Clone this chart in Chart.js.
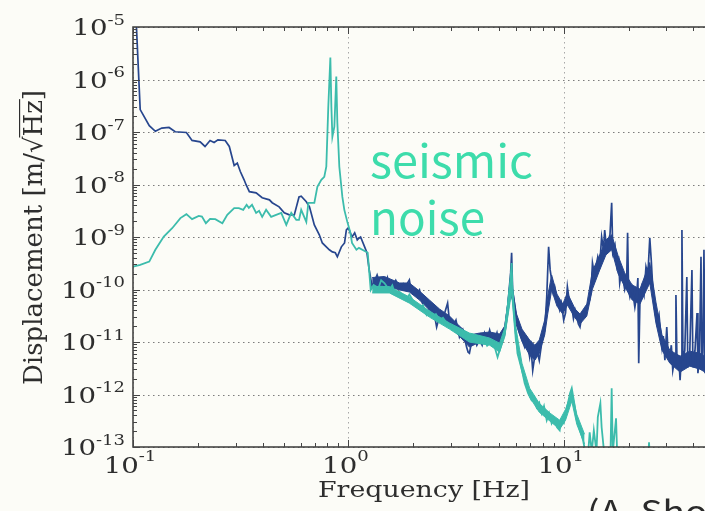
<!DOCTYPE html>
<html>
<head>
<meta charset="utf-8">
<title>Displacement spectrum</title>
<script src="https://cdn.jsdelivr.net/npm/chart.js@4.4.1/dist/chart.umd.min.js"></script>
<style>
    html, body { margin: 0; padding: 0; background: #fcfcf7; }
    #chart { display: block; }
</style>
</head>
<body>
<canvas id="chart" width="705" height="511"></canvas>
<script>
// axis decades (powers of ten) that carry a label and a dotted grid line
const xTickPowers = [-1, 0, 1];
const yTickPowers = [-5, -6, -7, -8, -9, -10, -11, -12, -13];

// dark blue trace
const blueFreq = [
    0.1025, 0.108, 0.119, 0.127, 0.136, 0.147, 0.157, 0.177, 0.188, 0.205,
    0.216, 0.228, 0.238, 0.248, 0.268, 0.280, 0.295, 0.305, 0.315, 0.328,
    0.335, 0.347, 0.373, 0.398, 0.430, 0.443, 0.477, 0.504, 0.532, 0.561,
    0.590, 0.604, 0.638, 0.660, 0.695, 0.733, 0.757, 0.790, 0.816, 0.843,
    0.870, 0.889, 0.928, 0.960, 0.979, 1.00, 1.04, 1.07, 1.10, 1.12,
    1.14, 1.19, 1.22, 1.25, 1.29, 1.36, 1.40, 1.44, 1.48, 1.52,
    1.56, 1.60, 1.66, 1.73, 1.80, 1.86, 1.92, 1.96, 2.07, 2.14,
    2.21, 2.30, 2.38, 2.47, 2.57, 2.66, 2.74, 2.89, 2.95, 3.05,
    3.16, 3.28, 3.40, 3.54, 3.60, 3.65, 3.75, 3.85, 3.95, 4.07,
    4.18, 4.29, 4.41, 4.53, 4.66, 4.78, 4.90, 5.04, 5.18, 5.32,
    5.49, 5.67, 5.73, 5.79, 6.04, 6.15, 6.24, 6.40, 6.59, 6.75,
    6.95, 7.05, 7.18, 7.35, 7.57, 7.70, 7.90, 8.05, 8.16, 8.34,
    8.51, 8.65, 8.79, 8.93, 9.08, 9.30, 9.58, 9.75, 10.0, 10.2,
    10.4, 10.6, 10.9, 11.1, 11.3, 11.5, 11.7, 11.9, 12.2, 12.5,
    12.8, 13.2, 13.4, 13.6, 13.9, 14.4, 14.7, 15.0, 15.3, 15.5,
    15.8, 16.0, 16.4, 16.7, 16.9, 17.3, 17.7, 18.0, 18.2, 18.5,
    18.8, 19.2, 19.6, 19.8, 20.0, 20.3, 20.8, 21.4, 21.8, 22.1,
    22.3, 22.6, 23.1, 23.6, 24.1, 24.6, 25.1, 25.5, 25.9, 26.5,
    27.1, 27.7, 28.6, 29.0, 29.5, 30.1, 30.5, 31.1, 31.6, 32.1,
    33.0, 33.2, 33.6, 34.2, 34.7, 35.1, 35.4, 35.8, 36.5, 37.3,
    37.7, 38.5, 39.4, 39.8, 40.7, 41.6, 42.0, 42.7, 43.4, 43.8,
    44.3, 44.8, 45.3, 46.0
];
const blueDisp = [
    3e-5, 2.67e-7, 1.32e-7, 1.03e-7, 1.19e-7, 1.22e-7, 1.01e-7, 9.8e-8, 6.9e-8, 6.5e-8,
    5.3e-8, 6.9e-8, 6.3e-8, 7.1e-8, 6.9e-8, 5.3e-8, 2.3e-8, 2.56e-8, 1.77e-8, 1.23e-8,
    9.9e-9, 7.3e-9, 6.95e-9, 5.6e-9, 5.1e-9, 4.5e-9, 3.75e-9, 2.9e-9, 2.64e-9, 2.64e-9,
    5.8e-9, 6.0e-9, 4.7e-9, 3.75e-9, 1.7e-9, 1.1e-9, 7.7e-10, 6.5e-10, 5.7e-10, 5.2e-10,
    5.0e-10, 4.2e-10, 6.5e-10, 7.7e-10, 1.36e-9, 1.49e-9, 1.0e-9, 1.2e-9, 8.8e-10, 9.5e-10,
    1.0e-9, 6.5e-10, 5.0e-10, 2.36e-10, 1.12e-10, 1.89e-10, 1.3e-10, 1.52e-10, 1.0e-10, 1.66e-10,
    1.07e-10, 1.12e-10, 1.5e-10, 1.07e-10, 1.3e-10, 1.22e-10, 1.52e-10, 8.95e-11, 7.85e-11, 9.8e-11,
    5.5e-11, 6.3e-11, 4.06e-11, 4.8e-11, 1.92e-11, 3.3e-11, 2.62e-11, 5.5e-11, 2.4e-11, 1.92e-11,
    2.6e-11, 1.24e-11, 1.7e-11, 8.0e-12, 6.4e-12, 6.1e-12, 1.09e-11, 1.24e-11, 8.7e-12, 1.09e-11,
    8.7e-12, 1.48e-11, 1.09e-11, 1.69e-11, 1.09e-11, 1.09e-11, 1.5e-11, 8.7e-12, 1.3e-11, 1.69e-11,
    4.6e-11, 2.07e-10, 5.0e-10, 9.8e-11, 2.62e-11, 2.1e-11, 1.48e-11, 1.09e-11, 8.0e-12, 1.09e-11,
    5.15e-12, 7.8e-12, 2.9e-12, 5.6e-12, 6.1e-12, 4.5e-12, 9.5e-12, 1.3e-11, 1.69e-11, 7.2e-11,
    6.5e-10, 2.36e-10, 1.52e-10, 8.95e-11, 1.12e-10, 6.3e-11, 4.06e-11, 5.5e-11, 2.62e-11, 3.6e-11,
    1.12e-10, 6.3e-11, 4.6e-11, 2.8e-11, 4.0e-11, 2.98e-11, 2.2e-11, 1.92e-11, 3.6e-11, 3.56e-11,
    4.8e-11, 6.3e-11, 9.8e-11, 3.2e-10, 1.9e-10, 4.2e-10, 3.0e-10, 1.0e-9, 5.7e-10, 1.36e-9,
    6.2e-10, 7.7e-10, 1.1e-9, 4.5e-9, 5.0e-10, 7.0e-10, 2.7e-10, 3.5e-10, 1.33e-10, 2.0e-10,
    1.73e-10, 1.0e-10, 1.4e-10, 1.2e-9, 1.0e-10, 7.2e-11, 1.07e-10, 4.6e-11, 7.4e-11, 1.66e-10,
    3.96e-12, 6.3e-11, 1.12e-10, 7.85e-11, 2.7e-10, 1.9e-10, 9.6e-10, 3.6e-10, 1.12e-10, 4.0e-11,
    2.3e-11, 3.3e-11, 8.0e-12, 1.3e-11, 4.5e-12, 1.92e-11, 6.4e-12, 5.15e-12, 8.7e-12, 2.9e-12,
    5.6e-12, 7.85e-11, 3.3e-12, 5.6e-12, 1.87e-12, 4.5e-12, 1.36e-9, 4.5e-12, 6.9e-12, 1.73e-10,
    3.3e-12, 6.4e-12, 2.36e-10, 3.3e-12, 6.9e-12, 3.56e-11, 2.55e-12, 5.6e-12, 4.2e-10, 3.3e-12,
    6.4e-12, 5.7e-10, 2.55e-12, 5e-12
];

// core of the dense noise band around the blue trace (upper / lower edge)
const blueBandFreq = [
    1.29, 1.47, 1.73, 1.92, 2.14, 2.38, 2.65, 2.95, 3.28, 3.65,
    4.07, 4.53, 5.04, 5.32, 5.49, 5.67, 5.79, 6.04, 6.40, 6.95,
    7.35, 7.70, 8.16, 8.43, 8.79, 9.30, 9.90, 10.4, 11.3, 11.9,
    12.8, 13.6, 14.7, 15.7, 16.7, 17.9, 19.2, 20.8, 22.6, 25.1,
    26.8, 28.6, 31.1, 34.7, 38.5, 42.9, 45.3
];
const blueBandHigh = [
    1.69e-10, 1.77e-10, 1.33e-10, 1.33e-10, 9.35e-11, 6.3e-11, 4.25e-11, 3.12e-11, 2.01e-11, 1.36e-11,
    1.48e-11, 1.55e-11, 1.42e-11, 2.01e-11, 5.28e-11, 1.81e-10, 1.02e-10, 3.41e-11, 1.76e-11, 1.09e-11,
    8.7e-12, 1.09e-11, 2.62e-11, 7.5e-11, 1.89e-10, 8.2e-11, 5.28e-11, 8.6e-11, 4.25e-11, 3.41e-11,
    5.28e-11, 2.25e-10, 4.55e-10, 8.8e-10, 1.10e-9, 4.35e-10, 2.07e-10, 1.22e-10, 1.02e-10, 3.27e-10,
    5.77e-11, 1.36e-11, 7.0e-12, 5.38e-12, 6.7e-12, 6.1e-12, 5.38e-12
];
const blueBandLow = [
    1.14e-10, 1.19e-10, 9.8e-11, 8.95e-11, 6.3e-11, 4.06e-11, 2.5e-11, 2.01e-11, 1.29e-11, 8.0e-12,
    9.95e-12, 1.04e-11, 9.1e-12, 1.29e-11, 3.12e-11, 8.2e-11, 6.04e-11, 2.01e-11, 1.04e-11, 5.6e-12,
    4.5e-12, 6.1e-12, 1.36e-11, 3.41e-11, 9.8e-11, 4.84e-11, 3.41e-11, 5.06e-11, 2.86e-11, 2.2e-11,
    3.12e-11, 1.02e-10, 2.36e-10, 4.55e-10, 5.7e-10, 1.98e-10, 1.14e-10, 6.3e-11, 5.28e-11, 1.33e-10,
    2.3e-11, 7.0e-12, 3.95e-12, 2.67e-12, 3.47e-12, 3.04e-12, 2.67e-12
];

// teal trace (seismic noise)
const tealFreq = [
    0.100, 0.108, 0.119, 0.127, 0.139, 0.152, 0.166, 0.177, 0.188, 0.202,
    0.209, 0.218, 0.228, 0.241, 0.260, 0.274, 0.295, 0.310, 0.325, 0.337,
    0.345, 0.357, 0.373, 0.385, 0.398, 0.415, 0.438, 0.462, 0.488, 0.515,
    0.543, 0.573, 0.590, 0.604, 0.638, 0.652, 0.695, 0.718, 0.749, 0.773,
    0.790, 0.807, 0.825, 0.834, 0.843, 0.861, 0.879, 0.889, 0.908, 0.938,
    0.958, 0.989, 1.02, 1.04, 1.09, 1.12, 1.19, 1.23, 1.27, 1.31,
    1.38, 1.42, 1.47, 1.55, 1.60, 1.64, 1.73, 1.80, 1.86, 1.92,
    1.99, 2.07, 2.14, 2.22, 2.31, 2.38, 2.46, 2.55, 2.65, 2.75,
    2.86, 2.95, 3.05, 3.16, 3.28, 3.40, 3.54, 3.65, 3.75, 3.85,
    3.95, 4.07, 4.18, 4.29, 4.41, 4.53, 4.66, 4.78, 4.93, 5.04,
    5.15, 5.32, 5.49, 5.67, 5.73, 5.79, 5.97, 6.10, 6.40, 6.59,
    6.83, 7.09, 7.30, 7.49, 7.70, 7.90, 8.10, 8.34, 8.55, 8.79,
    9.00, 9.31, 9.58, 9.70, 10.0, 10.3, 10.7, 10.9, 11.2, 11.5,
    11.9, 12.3, 12.6, 13.0, 13.2, 13.5, 13.8, 14.2, 14.4, 14.8,
    15.0, 15.4, 16.1, 16.5, 16.7, 16.9, 17.5, 17.7, 19.0, 24.6,
    24.9, 25.2, 30.0, 46.0
];
const tealDisp = [
    2.72e-10, 2.94e-10, 3.4e-10, 5.7e-10, 1.02e-9, 1.47e-9, 2.29e-9, 2.72e-9, 2.19e-9, 2.53e-9,
    2.45e-9, 1.83e-9, 2.21e-9, 2.19e-9, 1.83e-9, 2.64e-9, 3.55e-9, 3.55e-9, 3.29e-9, 4.1e-9,
    3.6e-9, 4.1e-9, 2.88e-9, 3.15e-9, 2.42e-9, 3.3e-9, 2.42e-9, 2.64e-9, 2.88e-9, 1.7e-9,
    2.88e-9, 2.12e-9, 2.12e-9, 3.3e-9, 1.94e-9, 4.48e-9, 4.48e-9, 9.0e-9, 1.23e-8, 1.40e-8,
    2.18e-8, 3.04e-7, 2.62e-6, 3.04e-7, 8.1e-8, 1.26e-7, 1.14e-6, 1.50e-7, 2.18e-8, 5.8e-9,
    3.29e-9, 1.94e-9, 1.25e-9, 7.7e-10, 5.7e-10, 6.2e-10, 5.4e-10, 5.0e-10, 9.8e-11, 1.22e-10,
    1.07e-10, 1.5e-10, 1.33e-10, 9.8e-11, 1.2e-10, 8.6e-11, 8.95e-11, 7.5e-11, 6.3e-11, 8.0e-11,
    6.3e-11, 5.2e-11, 4.44e-11, 5.0e-11, 3.26e-11, 3.8e-11, 2.98e-11, 3.4e-11, 2.62e-11, 2.9e-11,
    2.3e-11, 2.0e-11, 1.69e-11, 1.9e-11, 1.69e-11, 1.35e-11, 1.48e-11, 1.09e-11, 1.4e-11, 1.3e-11,
    1.0e-11, 9.5e-12, 1.2e-11, 1.09e-11, 8.5e-12, 9.5e-12, 9.0e-12, 8.0e-12, 5.15e-12, 7.0e-12,
    9.5e-12, 1.48e-11, 4.6e-11, 1.73e-10, 3.2e-10, 7.2e-11, 1.69e-11, 6.1e-12, 2.9e-12, 1.64e-12,
    1.06e-12, 7.8e-13, 9.0e-13, 5.7e-13, 7.0e-13, 4.4e-13, 6.0e-13, 3.24e-13, 4.4e-13, 2.83e-13,
    3.5e-13, 2.38e-13, 2.08e-13, 3.2e-13, 2.83e-13, 5.0e-13, 1.06e-12, 1.32e-12, 6.8e-13, 3.24e-13,
    2.08e-13, 1.34e-13, 8e-14, 8e-14, 1.91e-13, 8e-14, 2.08e-13, 8e-14, 3.7e-13, 6.8e-13,
    2.38e-13, 8e-14, 8e-14, 8e-14, 1.32e-12, 8e-14, 3.53e-13, 8e-14, 5e-14, 5e-14,
    1.23e-13, 5e-14, 4e-14, 4e-14
];

// core of the noise band around the teal trace
const tealBandFreq = [
    1.29, 1.55, 1.92, 2.38, 2.95, 3.65, 4.53, 5.04, 5.32, 5.73,
    5.97, 6.40, 6.95, 7.70, 8.65, 9.58, 10.2, 10.9, 11.5, 12.5
];
const tealBandHigh = [
    1.14e-10, 1.14e-10, 7.2e-11, 3.89e-11, 2.3e-11, 1.48e-11, 1.19e-11, 9.5e-12, 1.84e-11, 2.16e-10,
    2.1e-11, 3.95e-12, 1.32e-12, 6.8e-13, 4.4e-13, 3.24e-13, 5.24e-13, 1.16e-12, 4.21e-13, 1.75e-13
];
const tealBandLow = [
    8.6e-11, 8.6e-11, 5.5e-11, 2.98e-11, 1.76e-11, 9.95e-12, 8.7e-12, 6.4e-12, 1.24e-11, 8.95e-11,
    1.09e-11, 2.67e-12, 8.9e-13, 4.59e-13, 3.09e-13, 2.18e-13, 3.24e-13, 7.45e-13, 2.71e-13, 1.13e-13
];

const xMin = 0.1, xMax = 45.3;
const yMin = 1e-13, yMax = 1e-5;

const blue = '#27468e';
const teal = '#3cbcac';

const serif = '"DejaVu Serif", "Liberation Serif", serif';
const sans = '"Noto Sans CJK JP", "Noto Sans", sans-serif';

function toPoints(xs, ys) {
    return xs.map((f, i) => ({ x: f, y: ys[i] }));
}

function trace(label, xs, ys, color, width) {
    return {
        label: label,
        data: toPoints(xs, ys),
        showLine: true,
        borderColor: color,
        borderWidth: width,
        pointRadius: 0,
        tension: 0,
        fill: false,
        clip: 0
    };
}

// band edge; the upper edge fills down to the lower edge listed right after it
function bandEdge(label, xs, ys, color, isUpper) {
    return {
        label: label,
        data: toPoints(xs, ys),
        showLine: true,
        borderColor: color,
        backgroundColor: color,
        borderWidth: 1,
        pointRadius: 0,
        tension: 0,
        fill: isUpper ? '+1' : false,
        clip: 0
    };
}

// draws text left-aligned on a baseline, stretched to a given width
function fitText(ctx, text, font, x, y, width, sy) {
    ctx.save();
    ctx.font = font;
    const sx = width / ctx.measureText(text).width;
    ctx.translate(x, y);
    ctx.scale(sx, sy || 1);
    ctx.fillText(text, 0, 0);
    ctx.restore();
    return sx;
}

// "10" with a superscript exponent; anchor is the left edge of the label
function drawPower(ctx, p, left, baseY, supY) {
    const sx = 1.2;
    ctx.font = '23px ' + serif;
    const wBase = ctx.measureText('10').width * sx;
    ctx.save();
    ctx.translate(left, baseY);
    ctx.scale(sx, 1);
    ctx.fillText('10', 0, 0);
    ctx.restore();
    ctx.font = '15px ' + serif;
    ctx.save();
    ctx.translate(left + wBase, supY);
    ctx.scale(sx, 1);
    ctx.fillText(String(p), 0, 0);
    ctx.restore();
}

function powerWidth(ctx, p) {
    ctx.font = '23px ' + serif;
    const a = ctx.measureText('10').width;
    ctx.font = '15px ' + serif;
    const b = ctx.measureText(String(p)).width;
    return (a + b) * 1.2;
}

const frame = {
    id: 'frame',
    beforeDatasetsDraw(chart) {
        const { ctx, chartArea: a } = chart;
        const x = chart.scales.x, y = chart.scales.y;
        ctx.save();
        ctx.lineWidth = 1;
        ctx.setLineDash([1.5, 3.5]);
        ctx.strokeStyle = '#7c7c7c';
        yTickPowers.forEach(p => {
            const py = Math.round(y.getPixelForValue(Math.pow(10, p))) + 0.5;
            ctx.beginPath();
            ctx.moveTo(a.left, py);
            ctx.lineTo(a.right, py);
            ctx.stroke();
        });
        ctx.strokeStyle = '#a8a8a8';
        xTickPowers.forEach(p => {
            const px = Math.round(x.getPixelForValue(Math.pow(10, p))) + 0.5;
            ctx.beginPath();
            ctx.moveTo(px, a.top);
            ctx.lineTo(px, a.bottom);
            ctx.stroke();
        });
        ctx.restore();
    },
    afterDraw(chart) {
        const { ctx, chartArea: a } = chart;
        const x = chart.scales.x, y = chart.scales.y;
        ctx.save();

        // frame lines: left, bottom, top
        ctx.strokeStyle = '#3a3a3a';
        ctx.lineWidth = 1.5;
        ctx.beginPath();
        ctx.moveTo(a.right, a.top);
        ctx.lineTo(a.left, a.top);
        ctx.lineTo(a.left, a.bottom);
        ctx.lineTo(a.right, a.bottom);
        ctx.stroke();

        // inward tick marks
        ctx.lineWidth = 1;
        ctx.strokeStyle = '#444';
        for (let p = -13; p <= -6; p++) {
            for (let k = 1; k <= 9; k++) {
                const v = k * Math.pow(10, p);
                if (v < yMin || v > yMax) continue;
                const py = Math.round(y.getPixelForValue(v)) + 0.5;
                const len = k === 1 ? 7 : 4;
                ctx.beginPath();
                ctx.moveTo(a.left, py);
                ctx.lineTo(a.left + len, py);
                ctx.stroke();
            }
        }
        for (let p = -1; p <= 1; p++) {
            for (let k = 1; k <= 9; k++) {
                const v = k * Math.pow(10, p);
                if (v < xMin || v > xMax) continue;
                const px = Math.round(x.getPixelForValue(v)) + 0.5;
                const len = k === 1 ? 7 : 4;
                ctx.beginPath();
                ctx.moveTo(px, a.bottom);
                ctx.lineTo(px, a.bottom - len);
                ctx.moveTo(px, a.top);
                ctx.lineTo(px, a.top + len);
                ctx.stroke();
            }
        }

        // tick labels
        ctx.fillStyle = '#2e2e2e';
        ctx.textBaseline = 'alphabetic';
        yTickPowers.forEach(p => {
            const py = y.getPixelForValue(Math.pow(10, p));
            const w = powerWidth(ctx, p);
            drawPower(ctx, p, 125 - w, py + 8, py - 2.5);
        });
        xTickPowers.forEach(p => {
            const px = x.getPixelForValue(Math.pow(10, p));
            const w = powerWidth(ctx, p);
            drawPower(ctx, p, px - 3 - w / 2, 473, 461);
        });

        // axis titles
        fitText(ctx, 'Frequency [Hz]', '23px ' + serif, 318, 497, 212);

        ctx.save();
        ctx.translate(42, 385);
        ctx.rotate(-Math.PI / 2);
        const yTitle = 'Displacement [m/\u221AHz]';
        const sy = 1.15;
        const sx = fitText(ctx, yTitle, '22px ' + serif, 0, 0, 295, sy);
        // bar of the square root over "Hz"
        ctx.font = '22px ' + serif;
        const x0 = ctx.measureText('Displacement [m/\u221A').width * sx - 1;
        const x1 = ctx.measureText('Displacement [m/\u221AHz').width * sx + 1;
        ctx.lineWidth = 1.2;
        ctx.strokeStyle = '#2e2e2e';
        ctx.beginPath();
        ctx.moveTo(x0, -19.5 * sy);
        ctx.lineTo(x1, -19.5 * sy);
        ctx.stroke();
        ctx.restore();

        // annotations
        ctx.fillStyle = '#3ddcab';
        fitText(ctx, 'seismic', '46px ' + sans, 370, 178, 163);
        fitText(ctx, 'noise', '46px ' + sans, 370, 235, 115);

        ctx.fillStyle = '#2a2a2a';
        ctx.font = '31px ' + sans;
        const s = 98 / ctx.measureText('(A. Sh').width;
        ctx.save();
        ctx.translate(587, 523);
        ctx.scale(s, 1);
        ctx.fillText('(A. Shoda)', 0, 0);
        ctx.restore();

        ctx.restore();
    }
};

// index 0 is painted last, so the teal trace sits on top of the blue one
new Chart(document.getElementById('chart'), {
    type: 'scatter',
    data: {
        datasets: [
            trace('seismic noise', tealFreq, tealDisp, teal, 1.8),
            bandEdge('seismic band high', tealBandFreq, tealBandHigh, teal, true),
            bandEdge('seismic band low', tealBandFreq, tealBandLow, teal, false),
            trace('displacement', blueFreq, blueDisp, blue, 1.7),
            bandEdge('displacement band high', blueBandFreq, blueBandHigh, blue, true),
            bandEdge('displacement band low', blueBandFreq, blueBandLow, blue, false)
        ]
    },
    options: {
        responsive: false,
        devicePixelRatio: 1,
        animation: false,
        layout: { padding: { left: 133, top: 27, right: 0, bottom: 64 } },
        plugins: {
            legend: { display: false },
            tooltip: { enabled: false },
            filler: { propagate: false }
        },
        scales: {
            x: { type: 'logarithmic', min: xMin, max: xMax, display: false },
            y: { type: 'logarithmic', min: yMin, max: yMax, display: false }
        }
    },
    plugins: [frame]
});
</script>
</body>
</html>
